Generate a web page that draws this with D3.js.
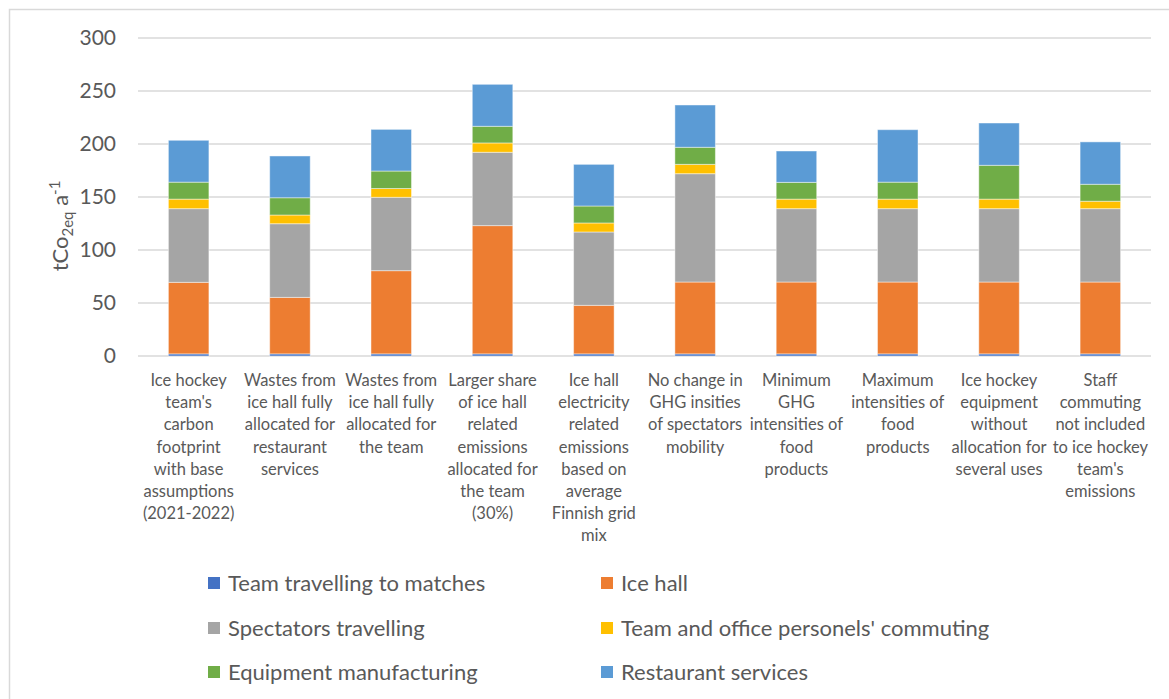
<!DOCTYPE html>
<html>
<head>
<meta charset="utf-8">
<script src="https://cdn.jsdelivr.net/npm/d3@7"></script>
<style>
  body { margin: 0; background: #fff; }
  text { font-family: Lato, "Open Sans", sans-serif; fill: #595959; }
</style>
</head>
<body>
<script>
// Scenario labels, already split into lines as in the picture
var scenarios = [
  ["Ice hockey", "team's", "carbon", "footprint", "with base", "assumptions", "(2021-2022)"],
  ["Wastes from", "ice hall fully", "allocated for", "restaurant", "services"],
  ["Wastes from", "ice hall fully", "allocated for", "the team"],
  ["Larger share", "of ice hall", "related", "emissions", "allocated for", "the team", "(30%)"],
  ["Ice hall", "electricity", "related", "emissions", "based on", "average", "Finnish grid", "mix"],
  ["No change in", "GHG insities", "of spectators", "mobility"],
  ["Minimum", "GHG", "intensities of", "food", "products"],
  ["Maximum", "intensities of", "food", "products"],
  ["Ice hockey", "equipment", "without", "allocation for", "several uses"],
  ["Staff", "commuting", "not included", "to ice hockey", "team's", "emissions"]
];

var seriesNames = [
  "Team travelling to matches",
  "Ice hall",
  "Spectators travelling",
  "Team and office personels' commuting",
  "Equipment manufacturing",
  "Restaurant services"
];

var seriesColors = ["#4472C4", "#ED7D31", "#A5A5A5", "#FFC000", "#70AD47", "#5B9BD5"];

// Values (tCO2eq per year)
var teamTravel  = [2, 2, 2, 2, 2, 2, 2, 2, 2, 2];
var iceHall     = [67.5, 53.3, 78.5, 121, 45.8, 67.8, 67.8, 67.8, 67.8, 67.8];
var spectators  = [69.5, 69.5, 69.2, 69.2, 69.2, 102.2, 69.2, 69.2, 69.2, 69.2];
var commuting   = [9, 8.2, 8.3, 8.8, 8.5, 8.8, 9, 9, 9, 7];
var equipment   = [16, 16.3, 16.5, 15.7, 16, 16.1, 15.8, 16, 31.9, 16];
var restaurant  = [39.5, 39.4, 39.3, 39.6, 39.3, 39.9, 29.6, 49.5, 39.9, 40];

var yTicks = [0, 50, 100, 150, 200, 250, 300];

var svgWidth = 1169;
var svgHeight = 699;

var svg = d3.select("body")
  .append("svg")
  .attr("width", svgWidth)
  .attr("height", svgHeight);

// Chart border (runs off the right and bottom edges)
svg.append("rect")
  .attr("x", 9.5)
  .attr("y", 9.5)
  .attr("width", svgWidth + 20)
  .attr("height", svgHeight + 20)
  .attr("fill", "none")
  .attr("stroke", "#d9d9d9")
  .attr("stroke-width", 1.5);

// Build the table the stack layout needs
var table = scenarios.map(function(s, i) {
  return {
    idx: i,
    s0: teamTravel[i], s1: iceHall[i], s2: spectators[i],
    s3: commuting[i], s4: equipment[i], s5: restaurant[i]
  };
});
var keys = ["s0", "s1", "s2", "s3", "s4", "s5"];
var stacked = d3.stack().keys(keys)(table);

var xScale = d3.scaleBand()
  .domain(d3.range(scenarios.length))
  .range([138, 1151])
  .paddingInner(0.6)
  .paddingOuter(0.3);

var yScale = d3.scaleLinear()
  .domain([0, 300])
  .range([356, 38]);

// Gridlines
svg.append("g")
  .selectAll("line")
  .data(yTicks)
  .enter()
  .append("line")
  .attr("x1", 138)
  .attr("x2", 1151)
  .attr("y1", d => yScale(d))
  .attr("y2", d => yScale(d))
  .attr("stroke", "#d9d9d9")
  .attr("stroke-width", 1.5);

// Y axis labels
var leftAxis = d3.axisLeft(yScale).tickValues(yTicks).tickSize(0).tickPadding(22);
var yAxisG = svg.append("g")
  .attr("transform", "translate(138,0)")
  .call(leftAxis);
yAxisG.select(".domain").remove();
yAxisG.selectAll("text")
  .style("font-size", "21px")
  .style("font-family", "Lato, sans-serif")
  .attr("fill", "#595959");

// Bars
svg.append("g")
  .selectAll("g")
  .data(stacked)
  .enter()
  .append("g")
  .attr("fill", (d, i) => seriesColors[i])
  .selectAll("rect")
  .data(d => d)
  .enter()
  .append("rect")
  .attr("x", d => xScale(d.data.idx))
  .attr("width", xScale.bandwidth())
  .attr("y", d => yScale(d[1]))
  .attr("height", d => yScale(d[0]) - yScale(d[1]))
  .attr("stroke", "#ffffff")
  .attr("stroke-opacity", 0.45)
  .attr("stroke-width", 1);

// Category labels
var catG = svg.append("g");
scenarios.forEach(function(lines, i) {
  var t = catG.append("text")
    .attr("x", xScale(i) + xScale.bandwidth() / 2)
    .attr("y", 386)
    .attr("text-anchor", "middle")
    .style("font-size", "16.5px");
  lines.forEach(function(line, j) {
    t.append("tspan")
      .attr("x", xScale(i) + xScale.bandwidth() / 2)
      .attr("dy", j === 0 ? 0 : 22.2)
      .text(line);
  });
});

// Y axis title
var yTitle = svg.append("text")
  .attr("transform", "translate(68,226) rotate(-90)")
  .attr("text-anchor", "middle")
  .style("font-size", "22px");
yTitle.append("tspan").text("tCo");
yTitle.append("tspan").attr("dy", 5).style("font-size", "15px").text("2eq");
yTitle.append("tspan").attr("dy", -5).text(" a");
yTitle.append("tspan").attr("dy", -8).style("font-size", "15px").text("-1");

// Legend
var legendX = [208, 601];
var legendY = [583, 628, 672];
var legend = svg.append("g")
  .selectAll("g")
  .data(seriesNames)
  .enter()
  .append("g")
  .attr("transform", (d, i) => `translate(${legendX[i % 2]}, ${legendY[Math.floor(i / 2)]})`);

legend.append("rect")
  .attr("x", 0)
  .attr("y", -6)
  .attr("width", 12)
  .attr("height", 12)
  .attr("fill", (d, i) => seriesColors[i]);

legend.append("text")
  .attr("x", 20)
  .attr("y", 0)
  .attr("dy", "0.35em")
  .style("font-size", "22px")
  .text(d => d);
</script>
</body>
</html>
